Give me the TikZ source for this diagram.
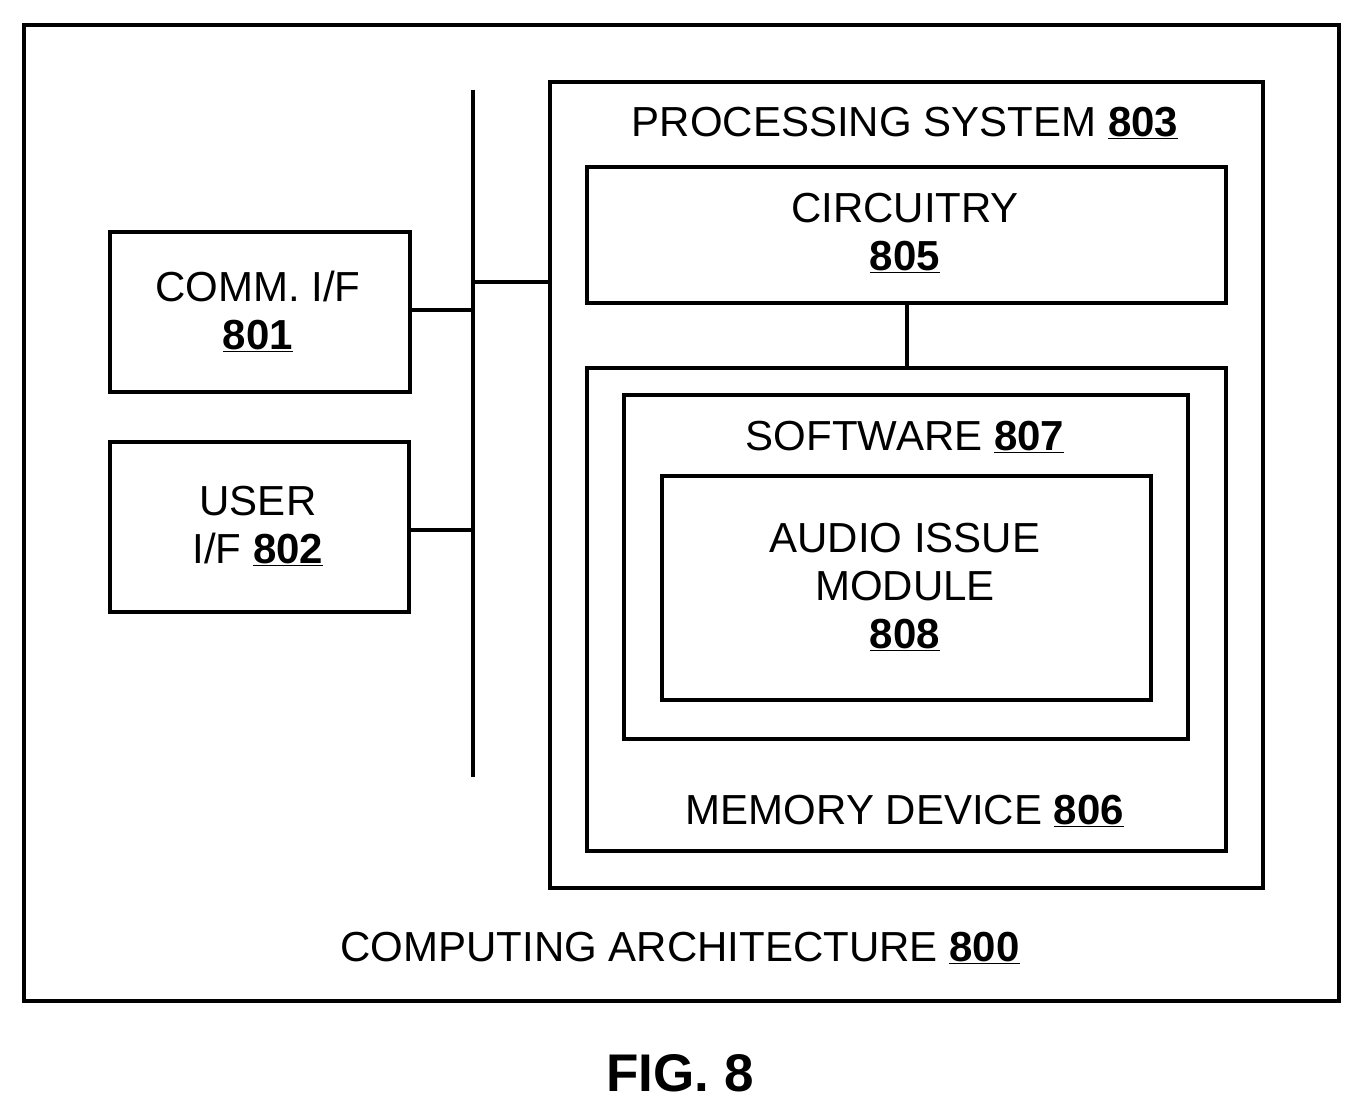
\documentclass[tikz,border=0pt]{standalone}
\usepackage{fontspec}
\setmainfont{Liberation Sans}
\usetikzlibrary{positioning}
\tikzset{
  box/.style={draw,line width=4pt,inner sep=0pt,anchor=north west},
  lbl/.style={align=center,font=\fontsize{42}{52}\selectfont,inner sep=0pt},
  wire/.style={line width=4pt}
}
\newcommand{\refnum}[1]{\underline{\textbf{#1}}}
\begin{document}
\begin{tikzpicture}[x=1pt,y=-1pt]
\useasboundingbox (0,0) rectangle (1360,1115);
% boxes
\node[box,minimum width=1315pt,minimum height=976pt] (arch) at (22,23) {};
\node[box,minimum width=300pt,minimum height=160pt] (comm) at (108,230) {};
\node[box,minimum width=299pt,minimum height=170pt] (user) at (108,440) {};
\node[box,minimum width=713pt,minimum height=806pt] (proc) at (548,80) {};
\node[box,minimum width=639pt,minimum height=136pt] (circ) at (585,165) {};
\node[box,minimum width=639pt,minimum height=483pt] (mem) at (585,366) {};
\node[box,minimum width=564pt,minimum height=344pt] (soft) at (622,393) {};
\node[box,minimum width=489pt,minimum height=224pt] (audio) at (660,474) {};
% labels
\node[lbl] at (258,311) {COMM. I/F\\[-4pt]\refnum{801}};
\node[lbl] at (258,526) {USER\\[-4pt]I/F \refnum{802}};
\node[lbl] at (905,123) {PROCESSING SYSTEM \refnum{803}};
\node[lbl] at (905,233) {CIRCUITRY\\[-4pt]\refnum{805}};
\node[lbl] at (905,437) {SOFTWARE \refnum{807}};
\node[lbl] at (905,587) {AUDIO ISSUE\\[-4pt]MODULE\\[-4pt]\refnum{808}};
\node[lbl] at (905,811) {MEMORY DEVICE \refnum{806}};
\node[lbl] at (680,948) {COMPUTING ARCHITECTURE \refnum{800}};
\node[lbl,font=\fontsize{53}{60}\selectfont\bfseries] at (680,1073) {FIG. 8};
% bus
\coordinate (bustop) at (473,90);
\coordinate (busbot) at (473,777);
\coordinate (busjoin) at (473,282);
\draw[wire] (bustop) -- (busbot);
\draw[wire] ([yshift=-80pt]comm.north east) -- ([yshift=-80pt]comm.north east -| bustop);
\draw[wire] ([yshift=-90pt]user.north east) -- ([yshift=-90pt]user.north east -| bustop);
\draw[wire] (busjoin) -- (busjoin -| proc.west);
\draw[wire] (circ.south) -- (mem.north);
\end{tikzpicture}
\end{document}
